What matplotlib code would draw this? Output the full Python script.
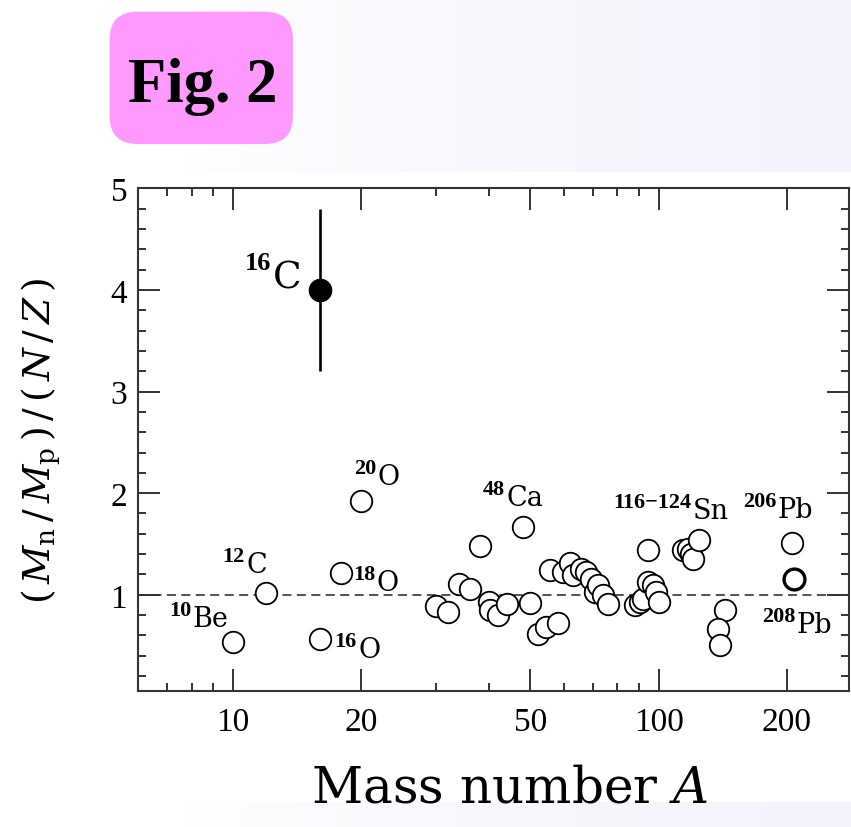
import numpy as np
import matplotlib
matplotlib.use("Agg")
import matplotlib.pyplot as plt
from matplotlib.patches import FancyBboxPatch, Rectangle
from matplotlib.transforms import IdentityTransform
from matplotlib.ticker import FixedLocator, NullFormatter

plt.rcParams['mathtext.fontset'] = 'dejavuserif'

# measured ratio (M_n/M_p)/(N/Z) versus mass number, open circles
mass_open = [10, 12, 16, 18, 20,
             38, 48, 34, 36, 30, 32, 40, 40.1, 42, 44, 50, 52, 54.5, 58,
             55.5, 59.6, 61.8, 62.9, 65.8, 67.6, 69.5, 70.8, 72, 73.9, 76,
             87.8, 90.2, 91.9, 94.4, 94.4, 97, 98.8, 100.2,
             114, 117.2, 119.4, 120.4, 124.4,
             142.9, 137.7, 139.6, 206]
ratio_open = [0.536, 1.018, 0.561, 1.214, 1.918,
              1.48, 1.667, 1.109, 1.06, 0.89, 0.83, 0.929, 0.847, 0.797, 0.906,
              0.922, 0.617, 0.683, 0.726,
              1.24, 1.224, 1.313, 1.191, 1.257, 1.224, 1.158, 1.028, 1.092,
              1.001, 0.912,
              0.896, 0.929, 0.962, 1.437, 1.126, 1.092, 1.028, 0.929,
              1.437, 1.453, 1.404, 1.355, 1.535,
              0.847, 0.667, 0.509, 1.512]

# 208Pb drawn with a heavier outline
mass_pb208 = [208]
ratio_pb208 = [1.158]

# 16C with its error bar
mass_c16 = [16]
ratio_c16 = [4.0]
err_c16 = [0.8]

# nucleus labels: mass number, symbol, symbol position (A, ratio at baseline)
lab_mass = ['10', '12', '16', '18', '20', '48', '116\u2212124', '206', '208', '16']
lab_sym = ['Be', 'C', 'O', 'O', 'O', 'Ca', 'Sn', 'Pb', 'Pb', 'C']
lab_x = [8.05, 10.75, 19.7, 21.8, 21.9, 43.9, 120.2, 190.3, 210.9, 12.4]
lab_y = [0.693, 1.224, 0.388, 1.043, 2.092, 1.879, 1.755, 1.765, 0.634, 4.02]
lab_big = [False] * 9 + [True]

xticks_major = [10, 20, 50, 100, 200]
xticks_minor = [7, 8, 9, 30, 40, 60, 70, 80, 90]

W, H = 851, 828
fig = plt.figure(figsize=(W / 100, H / 100), dpi=100)

# page background: faint lavender wash with a white panel behind the plot
bg = fig.add_axes([0, 0, 1, 1], zorder=-10)
bg.set_axis_off()
g = np.clip((np.linspace(0, 1, 256) - 0.22) / 0.78, 0, 1) ** 0.7
c0 = np.array([1.0, 1.0, 1.0])
c1 = np.array([244, 242, 252]) / 255
grad = c0[None, :] * (1 - g[:, None]) + c1[None, :] * g[:, None]
bg.imshow(grad[None, :, :], aspect='auto', extent=[0, 1, 0, 1])
bg.add_patch(Rectangle((0, 1 - 803 / H), 1, (803 - 172.7) / H,
                       facecolor='white', edgecolor='none'))
bg.set_xlim(0, 1)
bg.set_ylim(0, 1)

# "Fig. 2" tag
tag = FancyBboxPatch((109.6, H - 145), 293 - 109.6, 145 - 12.7,
                     boxstyle="round,pad=0,rounding_size=28",
                     facecolor='#ff99ff', edgecolor='none',
                     transform=IdentityTransform())
fig.patches.append(tag)
fig.text(127.8 / W, 1 - 101.7 / H, 'Fig. 2', family='Liberation Serif',
         weight='bold', fontsize=45, ha='left', va='baseline')

left, right, top, bottom = 138.3, 849, 189.3, 692.3
ax = fig.add_axes([left / W, 1 - bottom / H, (right - left) / W, (bottom - top) / H])
ax.set_xscale('log')
ax.set_xlim(6, 280)
ax.set_ylim(0.05, 5)

ax.axhline(1, color='#444444', lw=1.3, ls=(0, (5, 3)), zorder=1)

ax.plot(mass_open, ratio_open, 'o', ms=15.5, mfc='white', mec='black',
        mew=1.3, ls='none', zorder=3)
ax.plot(mass_pb208, ratio_pb208, 'o', ms=15, mfc='white', mec='black',
        mew=2.4, ls='none', zorder=3)
ax.errorbar(mass_c16, ratio_c16, yerr=err_c16, fmt='o', ms=16, color='black',
            mfc='black', elinewidth=1.9, capsize=0, zorder=4)

for m, s, x, y, big in zip(lab_mass, lab_sym, lab_x, lab_y, lab_big):
    size = 27 if big else 19.5
    sup = 19 if big else 16
    lift = 13.5 if big else 8
    ax.text(x, y, s, fontsize=size, family='DejaVu Serif',
            ha='left', va='baseline', zorder=5)
    ax.annotate(m, xy=(x, y), xytext=(-1, lift), textcoords='offset points',
                fontsize=sup, family='Liberation Serif', weight='bold',
                ha='right', va='baseline', zorder=5)

ax.xaxis.set_major_locator(FixedLocator(xticks_major))
ax.xaxis.set_minor_locator(FixedLocator(xticks_minor))
ax.set_xticklabels([str(t) for t in xticks_major])
ax.xaxis.set_minor_formatter(NullFormatter())
ax.set_yticks([1, 2, 3, 4, 5])
ax.set_yticks([v for v in np.arange(0.2, 5.0, 0.2) if abs(v - round(v)) > 1e-6],
              minor=True)

for sp in ax.spines.values():
    sp.set_linewidth(1.5)
    sp.set_color('#333333')
ax.tick_params(which='both', direction='in', top=True, right=True,
               color='#333333', width=1.4)
ax.tick_params(which='major', length=16, labelsize=24)
ax.tick_params(axis='x', which='major', pad=11)
ax.tick_params(axis='y', which='major', pad=8)
ax.tick_params(which='minor', length=6)
for lbl in ax.get_xticklabels() + ax.get_yticklabels():
    lbl.set_family('Liberation Serif')

fig.text(41 / W, 1 - 441 / H, r'$(\,M_{\mathrm{n}}\,/\,M_{\mathrm{p}}\,)\,/\,(\,N\,/\,Z\,)$',
         fontsize=27, rotation=90, ha='center', va='center')
fig.text(509.2 / W, 1 - 802.3 / H, r'Mass number $A$', family='DejaVu Serif',
         fontsize=36, ha='center', va='baseline')

fig.savefig('out.png', dpi=100)
